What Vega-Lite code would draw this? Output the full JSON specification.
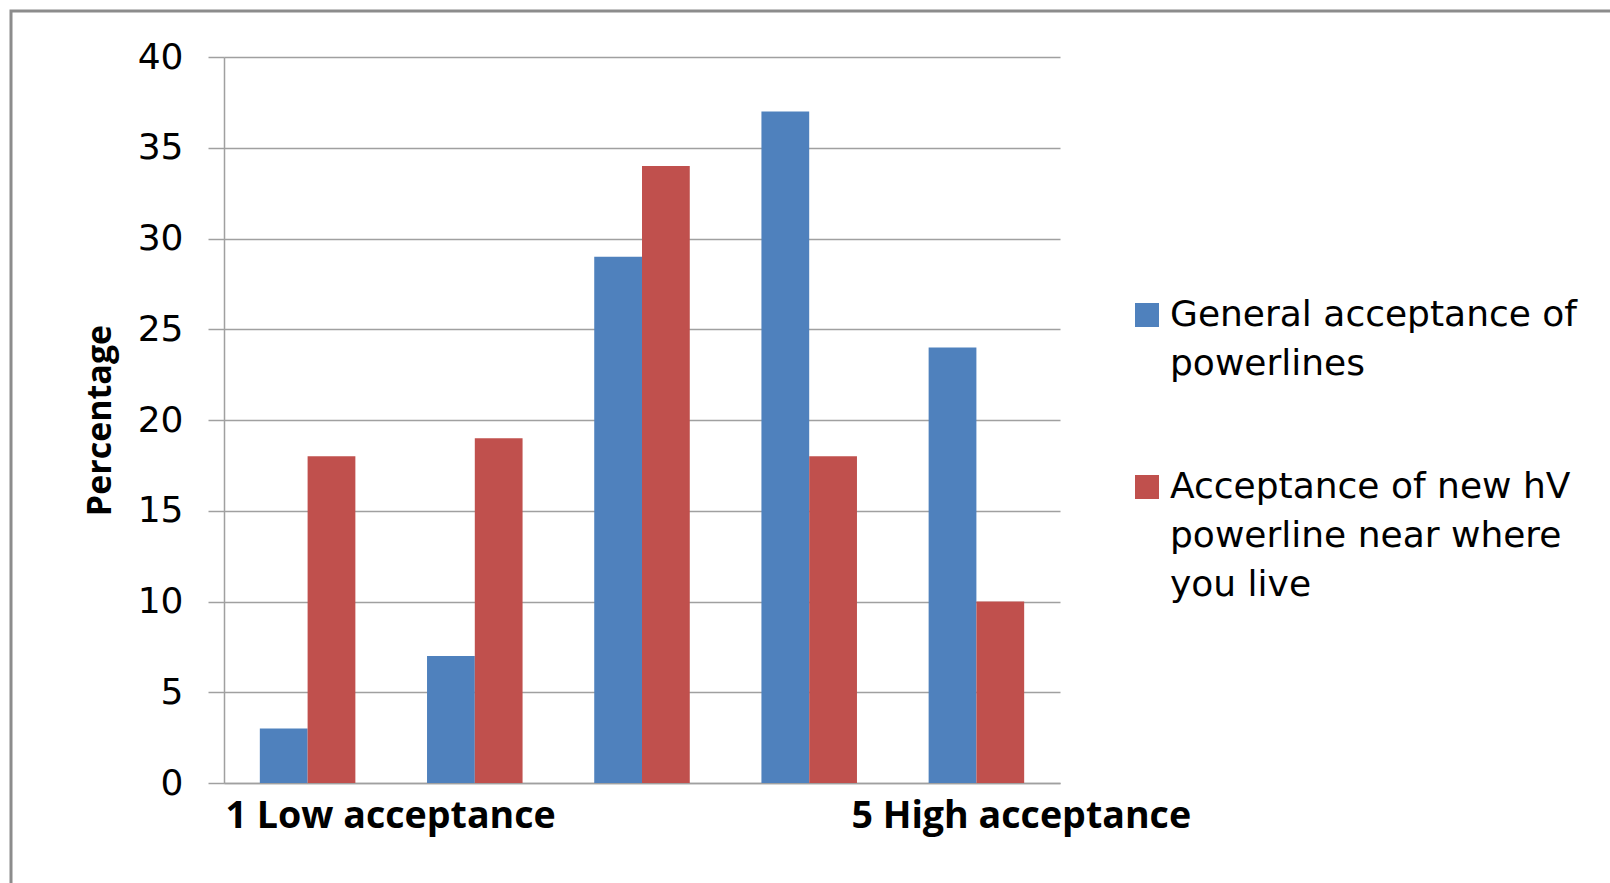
{
  "$schema": "https://vega.github.io/schema/vega-lite/v6.json",
  "width": 1599,
  "height": 872,
  "autosize": {"type": "none"},
  "padding": {"left": 11, "top": 11, "right": 0, "bottom": 0},
  "background": "white",
  "config": {
    "view": {"stroke": "#8c8c8c", "strokeWidth": 3, "strokeDash": [1599, 2471, 872]},
    "style": {"guide-label": {"lineHeight": 49}}
  },
  "data": {
    "values": [
      {"level": 1, "series": "General acceptance of powerlines", "pct": 3},
      {"level": 1, "series": "Acceptance of new hV powerline near where you live", "pct": 18},
      {"level": 2, "series": "General acceptance of powerlines", "pct": 7},
      {"level": 2, "series": "Acceptance of new hV powerline near where you live", "pct": 19},
      {"level": 3, "series": "General acceptance of powerlines", "pct": 29},
      {"level": 3, "series": "Acceptance of new hV powerline near where you live", "pct": 34},
      {"level": 4, "series": "General acceptance of powerlines", "pct": 37},
      {"level": 4, "series": "Acceptance of new hV powerline near where you live", "pct": 18},
      {"level": 5, "series": "General acceptance of powerlines", "pct": 24},
      {"level": 5, "series": "Acceptance of new hV powerline near where you live", "pct": 10}
    ]
  },
  "mark": {"type": "bar"},
  "encoding": {
    "x": {
      "field": "level",
      "type": "ordinal",
      "scale": {"range": [213, 1049], "paddingInner": 0.4286, "paddingOuter": 0.2143},
      "axis": {
        "title": null,
        "offset": -100,
        "labelAngle": 0,
        "labelExpr": "datum.value == 1 ? '1 Low acceptance' : datum.value == 5 ? '5 High acceptance' : ''",
        "labelAlign": "left",
        "labelBaseline": "top",
        "labelOffset": {"condition": {"test": "datum.value == 1", "value": -82}, "value": -125},
        "labelFont": "Open Sans",
        "labelFontWeight": "bold",
        "labelFontSize": 37.6,
        "labelColor": "#000000",
        "labelPadding": 14,
        "labelLimit": 0,
        "labelOverlap": false,
        "ticks": false,
        "tickSize": 0,
        "domainColor": "#a0a0a0",
        "domainWidth": 1.5
      }
    },
    "xOffset": {
      "field": "series",
      "sort": ["General acceptance of powerlines", "Acceptance of new hV powerline near where you live"]
    },
    "y": {
      "field": "pct",
      "type": "quantitative",
      "scale": {"domain": [0, 40], "nice": false, "range": [772, 46]},
      "axis": {
        "offset": -213,
        "values": [0, 5, 10, 15, 20, 25, 30, 35, 40],
        "title": "Percentage",
        "titleFont": "Open Sans",
        "titleFontWeight": "bold",
        "titleFontSize": 34,
        "titleColor": "#000000",
        "titlePadding": 20,
        "labelFont": "DejaVu Sans",
        "labelFontSize": 36,
        "labelColor": "#000000",
        "labelPadding": 25,
        "tickSize": 16,
        "tickColor": "#a0a0a0",
        "tickWidth": 1.5,
        "domainColor": "#a0a0a0",
        "domainWidth": 1.5,
        "gridColor": "#a0a0a0",
        "gridWidth": 1.5
      }
    },
    "color": {
      "field": "series",
      "type": "nominal",
      "scale": {
        "domain": ["General acceptance of powerlines", "Acceptance of new hV powerline near where you live"],
        "range": ["#4F81BD", "#C0504D"]
      },
      "legend": {
        "orient": "none",
        "legendX": 1118,
        "legendY": 286,
        "title": null,
        "labelExpr": "datum.label == 'General acceptance of powerlines' ? ['General acceptance of', 'powerlines'] : ['Acceptance of new hV', 'powerline near where', 'you live']",
        "labelFont": "DejaVu Sans",
        "labelFontSize": 36,
        "labelColor": "#000000",
        "labelLimit": 800,
        "labelOffset": 5,
        "symbolType": "square",
        "symbolSize": 576,
        "symbolStrokeWidth": 0,
        "symbolOpacity": 1,
        "rowPadding": 87,
        "padding": 0
      }
    }
  }
}
